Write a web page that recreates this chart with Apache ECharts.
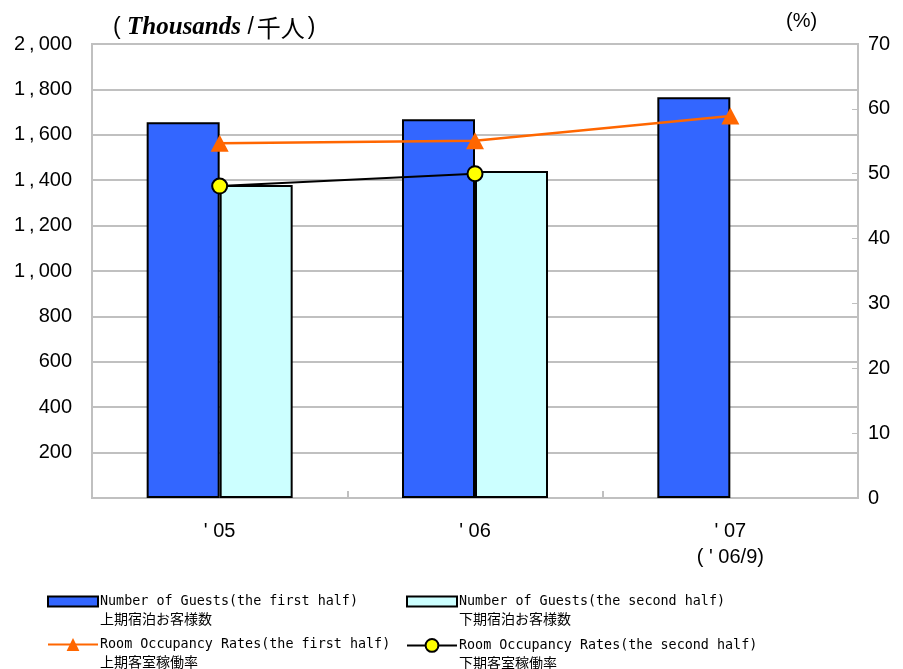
<!DOCTYPE html>
<html><head><meta charset="utf-8">
<script src="https://cdn.jsdelivr.net/npm/echarts@6/dist/echarts.min.js"></script>
<style>html,body{margin:0;padding:0;background:#fff}#c{width:903px;height:669px}</style>
</head><body><div id="c"></div>
<script>
const categories = ["' 05", "' 06", "' 07\n( ' 06/9)"];
const guestsFirst = [1655, 1668, 1765];
const guestsSecond = [1379, 1440, null];
const rateFirst = [54.7, 55.1, 58.9];
const rateSecond = [48.1, 50.0, null];
const leftAxis = { min: 0, max: 2000, interval: 200 };
const rightAxis = { min: 0, max: 70, interval: 10 };
const namesEn = ['Number of Guests(the first half)', 'Number of Guests(the second half)',
  'Room Occupancy Rates(the first half)', 'Room Occupancy Rates(the second half)'];
const namesJa = ['上期宿泊お客様数', '下期宿泊お客様数', '上期客室稼働率', '下期客室稼働率'];

const GRID = '#c0c0c0';
function fmtThousands(v) {
  if (v === 0) return '';
  const s = String(v);
  if (s.length > 3) return s.slice(0, -3) + '\u2009,\u2009' + s.slice(-3);
  return s;
}
function mkLegend(i, left, top, itemHeight, icon) {
  const lg = {
    data: [{ name: namesEn[i] }], left: left, top: top, padding: 0,
    itemWidth: 50, itemHeight: itemHeight, itemGap: 0, selectedMode: false,
    formatter: function (n) { return '{e|' + n + '}\n{j|' + namesJa[namesEn.indexOf(n)] + '}'; },
    textStyle: {
      padding: [17, 0, 0, -3],
      rich: {
        e: { fontFamily: 'DejaVu Sans Mono', fontSize: 13.4, lineHeight: 17, color: '#000' },
        j: { fontFamily: 'Noto Sans CJK JP', fontSize: 14, lineHeight: 17, color: '#000' }
      }
    }
  };
  if (icon) lg.data[0].icon = icon;
  return lg;
}

const chart = echarts.init(document.getElementById('c'), null, { renderer: 'canvas' });
chart.setOption({
  backgroundColor: '#fff',
  animation: false,
  title: [
    { text: '{p|( }{t|Thousands}{p| /}{c|千人}{p|)}', left: 113, top: 15, padding: 0,
      textStyle: { fontWeight: 'normal', rich: {
        p: { fontFamily: 'Liberation Sans', fontSize: 23, fontWeight: 'normal', color: '#000' },
        c: { fontFamily: 'Noto Sans CJK JP', fontSize: 24, fontWeight: 'normal', color: '#000', padding: [0, 3, 0, 3] },
        t: { fontFamily: 'Liberation Serif', fontStyle: 'italic', fontWeight: 'bold', fontSize: 25, color: '#000' }
      } } },
    { text: '(%)', left: 786, top: 11, padding: 0,
      textStyle: { fontFamily: 'Liberation Sans', fontSize: 20, fontWeight: 'normal', color: '#000' } }
  ],
  legend: [
    mkLegend(0, 47, 595, 10, 'rect'),
    mkLegend(1, 406, 595, 10, 'rect'),
    mkLegend(2, 47, 638, 16),
    mkLegend(3, 406, 638, 16)
  ],
  grid: { left: 92, right: 45, top: 44, bottom: 171, show: true, borderColor: GRID, borderWidth: 2, containLabel: false },
  xAxis: {
    type: 'category', data: categories, boundaryGap: true,
    axisLine: { lineStyle: { color: GRID, width: 2 } },
    axisTick: { show: true, inside: true, length: 7, lineStyle: { color: GRID, width: 2 } },
    axisLabel: { fontFamily: 'Liberation Sans', fontSize: 20, color: '#000', margin: 20, lineHeight: 26 }
  },
  yAxis: [
    { type: 'value', min: leftAxis.min, max: leftAxis.max, interval: leftAxis.interval,
      axisLine: { show: false }, axisTick: { show: false },
      splitLine: { show: true, lineStyle: { color: GRID, width: 2 } },
      axisLabel: { fontFamily: 'Liberation Sans', fontSize: 20, color: '#000', margin: 20, formatter: fmtThousands } },
    { type: 'value', position: 'right', min: rightAxis.min, max: rightAxis.max, interval: rightAxis.interval,
      axisLine: { show: true, lineStyle: { color: GRID, width: 2 } },
      axisTick: { show: true, inside: true, length: 6, lineStyle: { color: GRID, width: 1 } },
      splitLine: { show: false },
      axisLabel: { fontFamily: 'Liberation Sans', fontSize: 20, color: '#000', margin: 10 } }
  ],
  series: [
    { name: namesEn[0], type: 'bar', yAxisIndex: 0, data: guestsFirst, barWidth: 73, barGap: '0%',
      itemStyle: { color: '#3366ff', borderColor: '#000', borderWidth: 2 } },
    { name: namesEn[1], type: 'bar', yAxisIndex: 0, data: guestsSecond, barWidth: 73, barGap: '0%',
      itemStyle: { color: '#ccffff', borderColor: '#000', borderWidth: 2 } },
    { name: namesEn[2], type: 'line', yAxisIndex: 1, data: rateFirst, z: 5,
      symbol: 'triangle', symbolSize: [18, 17], showAllSymbol: true,
      lineStyle: { color: '#ff6600', width: 2.5 }, itemStyle: { color: '#ff6600' } },
    { name: namesEn[3], type: 'line', yAxisIndex: 1, data: rateSecond, z: 6,
      symbol: 'circle', symbolSize: 15, showAllSymbol: true,
      lineStyle: { color: '#000', width: 2 }, itemStyle: { color: '#ffff00', borderColor: '#000', borderWidth: 2 } }
  ]
});
</script>
</body></html>
